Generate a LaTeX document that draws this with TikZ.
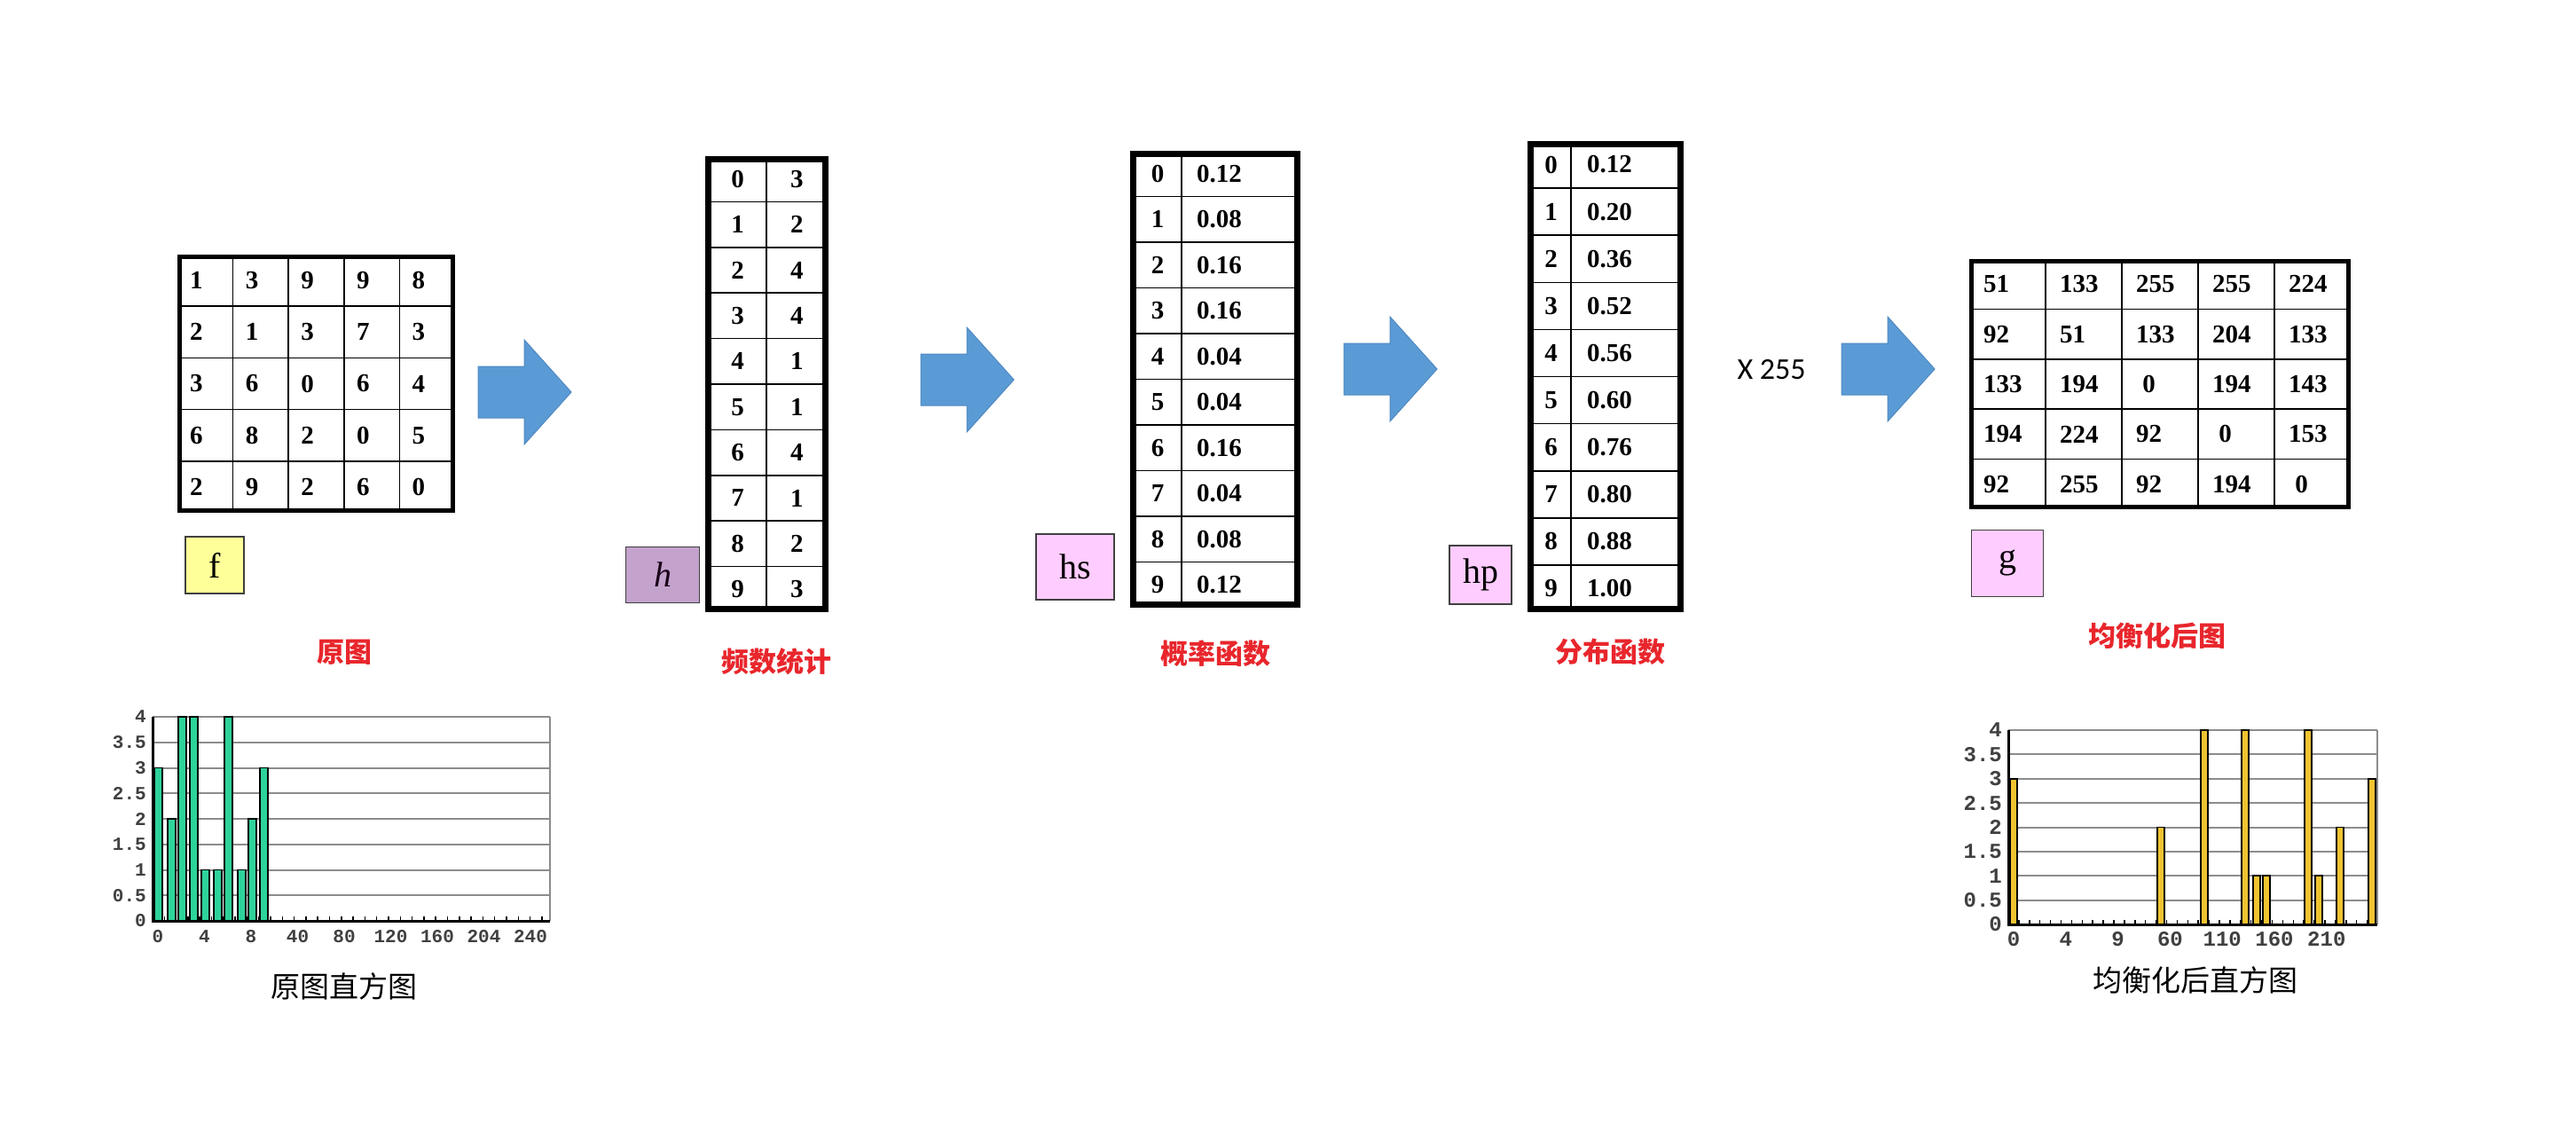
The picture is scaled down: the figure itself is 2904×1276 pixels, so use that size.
\documentclass[tikz,border=0pt]{standalone}
\usepackage{fontspec}
\setmainfont{Liberation Serif}
\newfontfamily\cjkfont{Noto Sans CJK SC}
\newfontfamily\axisfont{Liberation Mono}
\newfontfamily\calfont{Carlito}
\usepackage{xcolor}
\usepackage{tikz}
\usetikzlibrary{calc}
\definecolor{arrowblue}{HTML}{5B9BD5}
\definecolor{arrowedge}{HTML}{4F88C2}
\definecolor{labelred}{HTML}{E8262C}
\definecolor{fyellow}{HTML}{FFFF99}
\definecolor{hpurple}{HTML}{C3A2CC}
\definecolor{hspink}{HTML}{FFCCFF}
\definecolor{origgreen}{HTML}{2ED39A}
\definecolor{eqgold}{HTML}{F0C330}
\definecolor{gridgray}{HTML}{8C8C8C}
\tikzset{
  cellline/.style={line width=1.6pt},
  tabnum/.style={font=\bfseries\fontsize{29}{29}\selectfont, inner sep=0pt},
  namebox/.style={draw=black!75, line width=1.8pt, inner sep=0pt, font=\fontsize{40}{40}\selectfont},
  redlabel/.style={text=labelred, font=\cjkfont\bfseries\fontsize{31}{31}\selectfont},
  histtitle/.style={font=\cjkfont\fontsize{33}{33}\selectfont},
  axisnum/.style={font=\axisfont\bfseries\fontsize{#1}{#1}\selectfont, text=black!75, inner sep=0pt},
  gridrule/.style={gridgray, line width=2pt},
  bar/.style={draw=black, line width=1.8pt},
}
\newcommand{\blockarrow}[3]{
  \coordinate (#1) at (#2,#3);
  \draw[fill=arrowblue, draw=arrowedge, line width=1pt] (#1) ++(0,-29) -- ++(52,0) -- ++(0,-30) -- ++(53,59) -- ++(-53,59) -- ++(0,-30) -- ++(-52,0) -- cycle;
}
\newcommand{\imggrid}[7]{
  \pgfmathsetmacro{\cellw}{(#4-#2)/5}
  \pgfmathsetmacro{\cellh}{(#5-#3)/5}
  \foreach \k in {1,...,4} {
    \draw[cellline] ({#2+\k*\cellw},#3) -- ({#2+\k*\cellw},#5);
    \draw[cellline] (#2,{#3+\k*\cellh}) -- (#4,{#3+\k*\cellh});
  }
  \draw[line width=5pt] (#2+2.5,#3+2.5) rectangle (#4-2.5,#5-2.5);
  \foreach \row [count=\r from 0] in {#7} {
    \foreach \v [count=\c from 0] in \row
      \node[tabnum, anchor=west] (#1-\r-\c) at ({#2+\c*\cellw+#6},{#3+(\r+0.5)*\cellh}) {\v};
  }
}
\newcommand{\probtable}[8]{
  \pgfmathsetmacro{\rowh}{(#6-#3)/10}
  \draw[cellline] (#4,#3) -- (#4,#6);
  \foreach \k in {1,...,9} \draw[cellline] (#2,{#3+\k*\rowh}) -- (#5,{#3+\k*\rowh});
  \draw[line width=7pt] (#2+3.5,#3+3.5) rectangle (#5-3.5,#6-3.5);
  \foreach \v [count=\k from 0] in {#8} {
    \node[tabnum] (#1-i\k) at ({(#2+#4)/2+2},{#3+(\k+0.5)*\rowh}) {\k};
    \node[tabnum, anchor=west] (#1-v\k) at (#4+#7,{#3+(\k+0.5)*\rowh}) {\v};
  }
}
\newcommand{\histframe}[6]{
  \pgfmathsetmacro{\histu}{(#5-#3)/8}
  \foreach \k in {1,...,8} \draw[gridrule] (#2,{#5-\k*\histu}) -- (#4,{#5-\k*\histu});
  \draw[gridrule] (#4,#3) -- (#4,#5);
  \foreach \lab [count=\k from 0] in {0,0.5,1,1.5,2,2.5,3,3.5,4}
    \node[axisnum=#6, anchor=east] (#1-y\k) at (#2-7,{#5-\k*\histu}) {\lab};
  \coordinate (#1-o) at (#2,#5);
  \draw[line width=3pt] (#2,#3) -- (#1-o) -- (#4,#5);
}

\begin{document}
\begin{tikzpicture}[x=1pt,y=-1pt]
\useasboundingbox (0,0) rectangle (2904,1276);
\fill[white] (0,0) rectangle (2904,1276);

\imggrid{f}{200}{287}{513}{578}{14}{{1,3,9,9,8},{2,1,3,7,3},{3,6,0,6,4},{6,8,2,0,5},{2,9,2,6,0}}
\node[namebox, fill=fyellow, minimum width=66pt, minimum height=64pt] (fbox) at (242,637) {f};
\node[redlabel] (flabel) at (388,735) {原图};
\blockarrow{arr1}{539}{442}

\probtable{h}{795}{176}{864}{934}{690}{27}{3,2,4,4,1,1,4,1,2,3}
\node[namebox, fill=hpurple, minimum width=83pt, minimum height=63pt, text=black!80!violet] (hbox) at (747,648) {\textit{h}};
\node[redlabel] (hlabel) at (875,746) {频数统计};
\blockarrow{arr2}{1038}{428}

\probtable{hs}{1274}{170}{1332}{1466}{685}{17}{0.12,0.08,0.16,0.16,0.04,0.04,0.16,0.04,0.08,0.12}
\node[namebox, fill=hspink, minimum width=88pt, minimum height=74pt] (hsbox) at (1212,639) {hs};
\node[redlabel] (hslabel) at (1370,737) {概率函数};
\blockarrow{arr3}{1515}{416}

\probtable{hp}{1722}{159}{1771}{1898}{690}{18}{0.12,0.20,0.36,0.52,0.56,0.60,0.76,0.80,0.88,1.00}
\node[namebox, fill=hspink, minimum width=70pt, minimum height=66pt] (hpbox) at (1669,648) {hp};
\node[redlabel] (hplabel) at (1815,735) {分布函数};
\node[font=\calfont\fontsize{34}{34}\selectfont] (times) at (1997,417) {X 255};
\blockarrow{arr4}{2076}{416}

\imggrid{g}{2220}{292}{2650}{574}{16}{{51,133,255,255,224},{92,51,133,204,133},{133,194,~0,194,143},{194,224,92,~0,153},{92,255,92,194,~0}}
\node[namebox, fill=hspink, minimum width=81pt, minimum height=75pt] (gbox) at (2263,635) {g};
\node[redlabel] (glabel) at (2432,717) {均衡化后图};

\histframe{hl}{172}{808}{620}{1038}{21}
\foreach \k in {1,...,33} \draw[line width=1.5pt] (172+13.3*\k,1038) -- ++(0,-5);
\foreach \bx/\bh in {174/3,189/2,201/4,214/4,227/1,241/1,253/4,268/1,280/2,293/3}
  \draw[bar, fill=origgreen] (\bx,1038) rectangle ++(9,-\bh*57.5);
\foreach \lab [count=\k from 0] in {0,4,8,40,80,120,160,204,240}
  \node[axisnum=21] (hl-x\k) at (178+52.5*\k,1056) {\lab};
\node[histtitle] (hltitle) at (388,1112) {原图直方图};

\histframe{hr}{2264}{823}{2680}{1042}{24}
\foreach \k in {1,...,34} \draw[line width=1.5pt] (2264+11.9*\k,1042) -- ++(0,-5);
\foreach \bx/\bh in {2266/3,2432/2,2481/4,2527/4,2540/1,2551/1,2598/4,2610/1,2634/2,2670/3}
  \draw[bar, fill=eqgold] (\bx,1042) rectangle ++(8,-\bh*54.75);
\foreach \lab [count=\k from 0] in {0,4,9,60,110,160,210}
  \node[axisnum=24] (hr-x\k) at (2270+58.8*\k,1059) {\lab};
\node[histtitle] (hrtitle) at (2475,1105) {均衡化后直方图};
\end{tikzpicture}
\end{document}
